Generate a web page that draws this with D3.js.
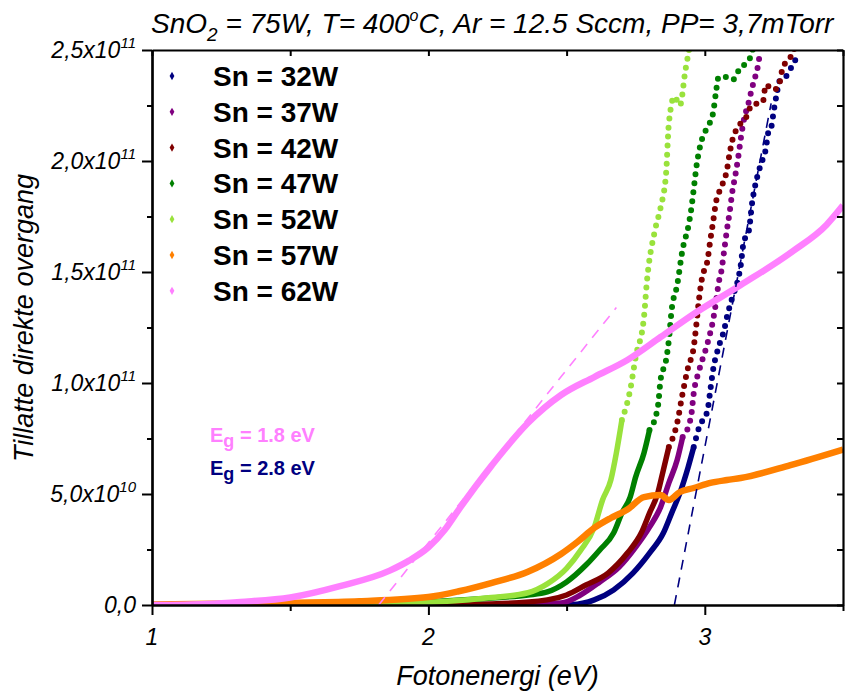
<!DOCTYPE html>
<html><head><meta charset="utf-8">
<script src="https://cdn.jsdelivr.net/npm/d3@7/dist/d3.min.js"></script>
<style>
body{margin:0;background:#fff}
svg{display:block}
text{font-family:Arial,"Liberation Sans",Helvetica,sans-serif;fill:#000}
</style></head>
<body><svg id="chart" width="863" height="691"></svg>
<script>
// ---------- data (photon energy eV, value in units of 1e10) ----------
const UNIT = 1e10;
const seriesNames = ["Sn = 32W","Sn = 37W","Sn = 42W","Sn = 47W","Sn = 52W","Sn = 57W","Sn = 62W"];
const seriesColors = ["#000080","#800080","#800000","#008000","#99e23c","#ff8000","#ff80ff"];

const sn32 = [[1.00,0],[2.00,0],[2.23,0],[2.52,0.02],[2.60,0.23],[2.67,0.68],[2.74,1.44],[2.80,2.34],[2.85,3.24],[2.88,4.14],[2.91,5.05],[2.94,6.22],[2.96,7.12],[2.98,8.02],[3.01,8.78],[3.02,9.68],[3.03,10.59],[3.05,11.62],[3.07,12.39],[3.08,12.97],[3.10,13.87],[3.12,14.64],[3.13,15.3],[3.14,16.3],[3.16,16.9],[3.17,18.0],[3.19,19.3],[3.21,20.1],[3.22,20.5],[3.23,21.3],[3.24,21.5],[3.25,22.3],[3.26,23.0],[3.27,23.6],[3.30,23.9],[3.32,24.4],[3.33,24.6]];
const sn37 = [[1.00,0],[2.00,0],[2.23,0.02],[2.48,0.09],[2.55,0.45],[2.62,1.04],[2.69,1.71],[2.75,2.61],[2.80,3.51],[2.84,4.41],[2.87,5.5],[2.90,6.53],[2.92,7.57],[2.95,8.47],[2.96,9.55],[2.98,10.59],[3.01,11.8],[3.03,12.84],[3.04,13.6],[3.05,14.5],[3.06,15.05],[3.07,15.95],[3.08,16.89],[3.09,17.7],[3.10,18.65],[3.11,19.32],[3.12,20.09],[3.13,20.99],[3.14,21.76],[3.16,22.7],[3.17,23.24],[3.18,23.69],[3.19,24.14],[3.20,24.9]];
const sn42 = [[1.00,0],[2.00,0.02],[2.23,0.05],[2.43,0.23],[2.50,0.45],[2.57,0.9],[2.65,1.44],[2.72,2.34],[2.77,3.24],[2.80,4.14],[2.83,5.05],[2.85,6.08],[2.87,7.12],[2.90,8.2],[2.92,9.55],[2.94,10.72],[2.96,11.62],[2.97,12.7],[2.98,13.87],[2.99,14.73],[3.01,15.54],[3.02,16.44],[3.03,17.25],[3.04,18.11],[3.06,18.83],[3.08,19.59],[3.09,20.36],[3.10,20.95],[3.12,21.53],[3.15,21.98],[3.17,22.52],[3.21,22.66],[3.22,23.42],[3.25,23.2],[3.27,23.51],[3.28,24.1],[3.30,24.55],[3.32,24.9],[3.33,25.4]];
const sn47 = [[1.00,0],[1.75,0.02],[1.99,0.14],[2.23,0.32],[2.36,0.45],[2.43,0.59],[2.50,1.04],[2.57,1.80],[2.62,2.48],[2.67,3.24],[2.70,4.14],[2.73,4.86],[2.75,5.77],[2.78,6.85],[2.80,7.88],[2.83,8.92],[2.84,10.14],[2.86,11.04],[2.87,11.94],[2.88,13.29],[2.90,14.41],[2.92,16.04],[2.94,17.03],[2.95,17.75],[2.96,18.74],[2.97,19.77],[2.99,20.99],[3.01,21.53],[3.03,22.16],[3.04,23.06],[3.05,23.78],[3.08,23.78],[3.10,23.65],[3.13,24.23],[3.15,24.41],[3.17,24.86],[3.18,25.4]];
const sn52 = [[1.00,0],[1.50,0.02],[2.00,0.12],[2.20,0.3],[2.36,0.55],[2.43,0.95],[2.50,1.65],[2.55,2.45],[2.60,3.5],[2.63,4.73],[2.66,5.63],[2.68,6.85],[2.70,8.33],[2.73,9.68],[2.75,11.17],[2.78,12.97],[2.79,14.5],[2.82,16.9],[2.84,17.9],[2.86,19.46],[2.87,21.7],[2.89,22.9],[2.91,22.5],[2.93,24.1],[2.94,24.8],[2.95,25.5]];
const sn57 = [[1.00,0.02],[1.50,0.1],[1.75,0.17],[2.00,0.36],[2.11,0.62],[2.23,1.0],[2.36,1.5],[2.48,2.3],[2.54,2.85],[2.60,3.47],[2.66,3.92],[2.72,4.3],[2.78,4.86],[2.84,4.95],[2.87,4.73],[2.91,5.09],[2.96,5.27],[3.02,5.50],[3.08,5.63],[3.13,5.72],[3.31,6.3],[3.50,7.0]];
const sn62 = [[1.00,0],[1.20,0.05],[1.32,0.14],[1.50,0.34],[1.68,0.85],[1.86,1.55],[1.93,2.0],[2.00,2.6],[2.06,3.4],[2.11,4.3],[2.23,6.3],[2.36,8.2],[2.48,9.46],[2.60,10.27],[2.72,11.04],[2.84,12.07],[2.96,13.11],[3.13,14.41],[3.32,15.95],[3.44,17.12],[3.50,18.0]];
const seriesData = [sn32, sn37, sn42, sn47, sn52, sn57, sn62];

// tangent (band-gap) lines
const tangent62 = [[1.82,0],[2.68,13.4]];
const tangent32 = [[2.89,0],[3.24,22.6]];

// axes
const xMajor = [1, 2, 3];
const xMajorLabels = ["1", "2", "3"];
const xMinor = [1.5, 2.5, 3.5];
const yMajor = [0, 5e10, 1e11, 1.5e11, 2e11, 2.5e11];
const yMantissa = ["0,0", "5,0", "1,0", "1,5", "2,0", "2,5"];
const yExponent = ["", "10", "11", "11", "11", "11"];
const yMinor = [2.5e10, 7.5e10, 1.25e11, 1.75e11, 2.25e11];

// ---------- drawing ----------
const svg = d3.select("#chart");
const L = 152, R = 843, T = 50, B = 605;
const x = d3.scaleLinear().domain([1, 3.5]).range([L, R]);
const y = d3.scaleLinear().domain([0, 2.5e11]).range([B, T]);

svg.append("defs").append("clipPath").attr("id","clip")
  .append("rect").attr("x", L).attr("y", T).attr("width", R - L).attr("height", B - T);

const line = d3.line().x(d => x(d[0])).y(d => y(d[1] * UNIT)).curve(d3.curveMonotoneX);
const straight = d3.line().x(d => x(d[0])).y(d => y(d[1] * UNIT));
const plot = svg.append("g").attr("clip-path", "url(#clip)");

const SPLIT = 7;          // above this the measured points separate into dots
const denseOnly = new Set([5, 6]);

seriesData.forEach((pts, i) => {
  const col = seriesColors[i];
  const w = (i >= 5) ? 6.5 : 5.5;
  if (denseOnly.has(i)) {
    plot.append("path").attr("d", line(pts)).attr("fill","none")
      .attr("stroke", col).attr("stroke-width", w).attr("stroke-linejoin","round");
    return;
  }
  let k = pts.findIndex(d => d[1] > SPLIT);
  if (k < 0) k = pts.length;
  const solid = pts.slice(0, Math.min(k + 1, pts.length));
  const dotted = pts.slice(Math.max(k, 0));
  plot.append("path").attr("d", line(solid)).attr("fill","none")
    .attr("stroke", col).attr("stroke-width", w).attr("stroke-linejoin","round");
  plot.append("path").attr("d", line(dotted)).attr("fill","none")
    .attr("stroke", col).attr("stroke-width", 6).attr("stroke-linecap","round")
    .attr("stroke-dasharray", "0 9");
});

plot.append("path").attr("d", straight(tangent62)).attr("fill","none")
  .attr("stroke", "#ff80ff").attr("stroke-width", 1.6).attr("stroke-dasharray","10 8");
plot.append("path").attr("d", straight(tangent32)).attr("fill","none")
  .attr("stroke", "#000080").attr("stroke-width", 1.6).attr("stroke-dasharray","10 8");

// axes
function styleAxis(g) {
  g.selectAll("path.domain").attr("stroke","#000").attr("stroke-width",2.2);
  g.selectAll(".tick line").attr("stroke","#000").attr("stroke-width",2);
  g.selectAll(".tick text").remove();
}
svg.append("g").attr("transform", `translate(0,${B})`)
  .call(d3.axisBottom(x).tickValues(xMajor).tickSize(10).tickSizeOuter(0)).call(styleAxis);
svg.append("g").attr("transform", `translate(0,${B})`)
  .call(d3.axisBottom(x).tickValues(xMinor).tickSize(6).tickSizeOuter(0)).call(styleAxis);
svg.append("g").attr("transform", `translate(0,${T})`)
  .call(d3.axisBottom(x).tickValues(xMajor.concat(xMinor)).tickSize(6).tickSizeOuter(0)).call(styleAxis);
svg.append("g").attr("transform", `translate(${L},0)`)
  .call(d3.axisLeft(y).tickValues(yMajor).tickSize(10).tickSizeOuter(0)).call(styleAxis);
svg.append("g").attr("transform", `translate(${L},0)`)
  .call(d3.axisLeft(y).tickValues(yMinor).tickSize(5).tickSizeOuter(0)).call(styleAxis);
svg.append("g").attr("transform", `translate(${R},0)`)
  .call(d3.axisLeft(y).tickValues(yMajor.concat(yMinor)).tickSize(6).tickSizeOuter(0)).call(styleAxis);

// x tick labels
xMajor.forEach((v, i) => {
  svg.append("text").attr("x", x(v)).attr("y", B + 40).attr("text-anchor","middle")
    .attr("font-size", 23).attr("font-style","italic").text(xMajorLabels[i]);
});
// y tick labels
yMajor.forEach((v, i) => {
  const t = svg.append("text").attr("x", L - 16).attr("y", y(v) + 8)
    .attr("text-anchor","end").attr("font-size", 23).attr("font-style","italic");
  if (yExponent[i] === "") { t.text(yMantissa[i]); return; }
  t.append("tspan").text(yMantissa[i] + "x10");
  t.append("tspan").attr("font-size", 15).attr("dy", -10).text(yExponent[i]);
});

// axis titles
svg.append("text").attr("x", (L + R) / 2).attr("y", 685).attr("text-anchor","middle")
  .attr("font-size", 27).attr("font-style","italic").text("Fotonenergi (eV)");
svg.append("text").attr("transform", "translate(33,318) rotate(-90)").attr("text-anchor","middle")
  .attr("font-size", 27).attr("font-style","italic").text("Tillatte direkte overgang");

// title
const title = svg.append("text").attr("x", 151).attr("y", 33).attr("font-size", 28).attr("font-style","italic");
title.append("tspan").text("SnO");
title.append("tspan").attr("font-size", 19).attr("dy", 8).text("2");
title.append("tspan").attr("dy", -8).text(" = 75W, T= 400");
title.append("tspan").attr("font-size", 16).attr("dy", -12).text("o");
title.append("tspan").attr("dy", 12).text("C, Ar = 12.5 Sccm, PP= 3,7mTorr");

// legend
seriesNames.forEach((name, i) => {
  const cy = 76 + i * 35.8;
  svg.append("path").attr("d", d3.symbol(d3.symbolDiamond, 20)())
    .attr("transform", `translate(172,${cy})`).attr("fill", seriesColors[i]);
  svg.append("text").attr("x", 213).attr("y", cy + 10).attr("font-size", 28)
    .attr("font-weight","bold").text(name);
});

// band gap annotations
const egLabels = [["= 1.8 eV", "#ff80ff", 442], ["= 2.8 eV", "#000080", 475]];
egLabels.forEach(([txt, col, yy]) => {
  const t = svg.append("text").attr("x", 210).attr("y", yy).attr("font-size", 20)
    .attr("font-weight","bold").style("fill", col);
  t.append("tspan").text("E");
  t.append("tspan").attr("font-size", 18).attr("dy", 5).text("g");
  t.append("tspan").attr("dy", -5).text(" " + txt);
});
</script>
</body></html>
